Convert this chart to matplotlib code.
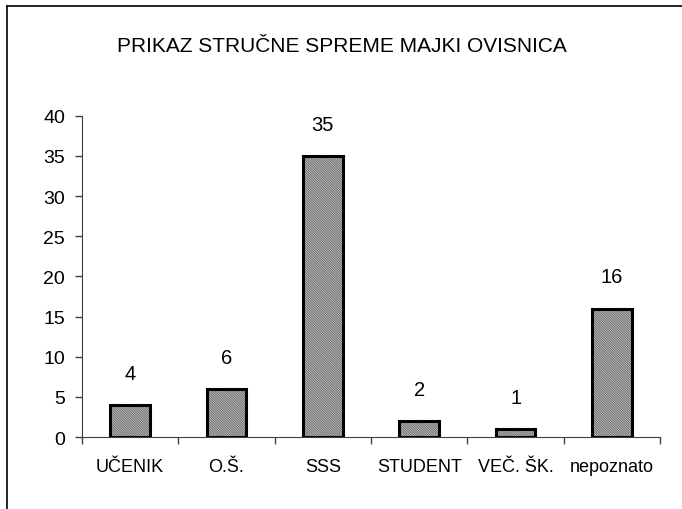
import matplotlib.pyplot as plt
from matplotlib.lines import Line2D

plt.rcParams['font.family'] = ['Liberation Sans', 'DejaVu Sans']
plt.rcParams['hatch.linewidth'] = 0.8

kategorije = ['UČENIK', 'O.Š.', 'SSS', 'STUDENT', 'VEČ. ŠK.', 'nepoznato']
broj = [4, 6, 35, 2, 1, 16]
y_ticks = [0, 5, 10, 15, 20, 25, 30, 35, 40]

fig = plt.figure(figsize=(6.82, 5.10), dpi=100)
ax = fig.add_axes([0.120, 0.141, 0.848, 0.630])

x = list(range(len(kategorije)))
# ispuna s gustim kosim šrafom
ax.bar(x, broj, width=0.41, facecolor='#d8d8d8', edgecolor='#707070',
       linewidth=0, hatch='\\' * 14)
# crni obrub
ax.bar(x, broj, width=0.41, fill=False, edgecolor='black', linewidth=2.2)

for xi, v in zip(x, broj):
    ax.annotate(str(v), (xi, v), xytext=(0, 16), textcoords='offset points',
                ha='center', va='bottom', fontsize=14.5)

ax.set_xlim(-0.5, len(kategorije) - 0.5)
ax.set_ylim(0, 40)
ax.set_yticks(y_ticks)
ax.set_xticks([i - 0.5 for i in range(len(kategorije) + 1)])
ax.set_xticklabels([])
ax.set_xticks(x, minor=True)
ax.set_xticklabels(kategorije, minor=True, fontsize=13)
ax.tick_params(axis='x', which='minor', length=0, pad=15)
ax.tick_params(axis='x', which='major', length=5, width=1, color='#404040')
ax.tick_params(axis='y', length=5, width=1, color='#404040', labelsize=14, pad=7)

ax.spines['top'].set_visible(False)
ax.spines['right'].set_visible(False)
ax.spines['left'].set_color('#404040')
ax.spines['bottom'].set_color('#404040')

fig.text(0.502, 0.908, 'PRIKAZ STRUČNE SPREME MAJKI OVISNICA',
         ha='center', va='center', fontsize=15)

# okvir grafa (odrezan desno i dolje)
fig.add_artist(Line2D([0.0103, 1.0], [0.9863, 0.9863], color='black', lw=1.2))
fig.add_artist(Line2D([0.0103, 0.0103], [0.0, 0.9863], color='black', lw=1.2))

fig.savefig('out.png', dpi=100)
